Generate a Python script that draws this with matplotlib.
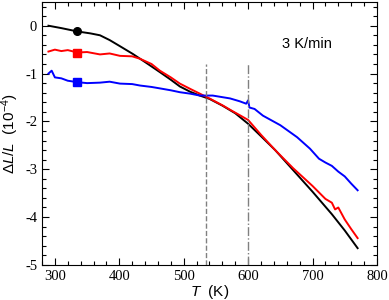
import matplotlib
matplotlib.use("Agg")
import matplotlib.pyplot as plt
from matplotlib.ticker import MultipleLocator

plt.rcParams['axes.unicode_minus'] = False
plt.rcParams['mathtext.fontset'] = 'custom'
plt.rcParams['mathtext.rm'] = 'Liberation Sans'
plt.rcParams['mathtext.it'] = 'Liberation Sans:italic'

# Datos (T en K, dL/L en 1e-4)
t_negro = [290, 310, 335, 355, 370, 385, 400, 421, 440, 463, 480, 494, 510, 525,
           540, 560, 580, 600, 620, 642, 670, 700, 730, 750, 770]
negro = [0.0, -0.05, -0.12, -0.16, -0.2, -0.3, -0.42, -0.59, -0.76, -0.97, -1.13,
         -1.27, -1.38, -1.46, -1.53, -1.67, -1.83, -2.05, -2.31, -2.6, -3.02, -3.47,
         -3.94, -4.28, -4.65]

t_rojo = [290, 300, 310, 320, 335, 350, 370, 385, 401, 420, 432, 450, 463, 480, 494,
          510, 525, 540, 561, 575, 587, 600, 620, 642, 670, 700, 720, 730, 735, 740,
          750, 760, 770]
rojo = [-0.54, -0.5, -0.53, -0.51, -0.56, -0.55, -0.6, -0.58, -0.63, -0.64, -0.69,
        -0.8, -0.94, -1.08, -1.21, -1.32, -1.42, -1.52, -1.67, -1.78, -1.87, -1.97,
        -2.28, -2.6, -2.98, -3.35, -3.62, -3.7, -3.84, -3.8, -4.05, -4.25, -4.44]

t_azul = [290, 295, 300, 310, 320, 335, 350, 370, 385, 401, 420, 432, 450, 463, 480,
          494, 510, 525, 545, 572, 587, 597, 600, 602, 610, 623, 650, 676, 696, 710,
          720, 730, 740, 750, 760, 770]
azul = [-1.0, -0.94, -1.08, -1.1, -1.15, -1.18, -1.2, -1.19, -1.17, -1.21, -1.22,
        -1.25, -1.28, -1.31, -1.35, -1.39, -1.42, -1.46, -1.46, -1.52, -1.58, -1.63,
        -1.56, -1.71, -1.74, -1.88, -2.08, -2.33, -2.57, -2.78, -2.86, -2.93, -3.05,
        -3.15, -3.3, -3.44]

# Simbolos sobre cada curva
t_simbolo = 335
simbolo_negro = -0.12
simbolo_rojo = -0.56
simbolo_azul = -1.18

# Lineas verticales de referencia
t_guion = 535
t_punto_guion = 600
y_linea_sup = -0.8

fig = plt.figure(figsize=(3.89, 3.0), dpi=100)
ax = fig.add_axes([0.108, 0.117, 0.861, 0.877])

ax.plot(t_negro, negro, color='black', lw=1.4)
ax.plot(t_rojo, rojo, color='red', lw=1.4)
ax.plot(t_azul, azul, color='blue', lw=1.4)
ax.plot([t_simbolo], [simbolo_negro], 'o', color='black', ms=5.5)
ax.plot([t_simbolo], [simbolo_rojo], 's', color='red', ms=5.5)
ax.plot([t_simbolo], [simbolo_azul], 's', color='blue', ms=5.5)

ax.vlines(t_guion, -5, y_linea_sup, colors='gray', linestyles='--', lw=1)
ax.vlines(t_punto_guion, -5, y_linea_sup, colors='gray', linestyles='-.', lw=1)

ax.text(653, -0.375, '3 K/min', fontsize=10.5, family='Liberation Sans',
        ha='left', va='center')

ax.set_xlim(280, 800)
ax.set_ylim(-5, 0.5)
ax.xaxis.set_major_locator(MultipleLocator(100))
ax.xaxis.set_minor_locator(MultipleLocator(20))
ax.yaxis.set_major_locator(MultipleLocator(1))
ax.yaxis.set_minor_locator(MultipleLocator(0.2))
ax.tick_params(which='both', direction='in', top=True, right=True)
ax.tick_params(which='major', length=5, width=0.8)
ax.tick_params(which='minor', length=3, width=0.8)
for lab in ax.get_xticklabels() + ax.get_yticklabels():
    lab.set_family('Liberation Serif')
    lab.set_fontsize(10.5)

ax.set_xlabel(r'$T$  (K)', fontsize=11, family='Liberation Sans', labelpad=0)
ax.set_ylabel(r'$\Delta L/L$  (10$^{-4}$)', fontsize=11, family='Liberation Sans',
              labelpad=3)

fig.savefig('out.png', dpi=100)
